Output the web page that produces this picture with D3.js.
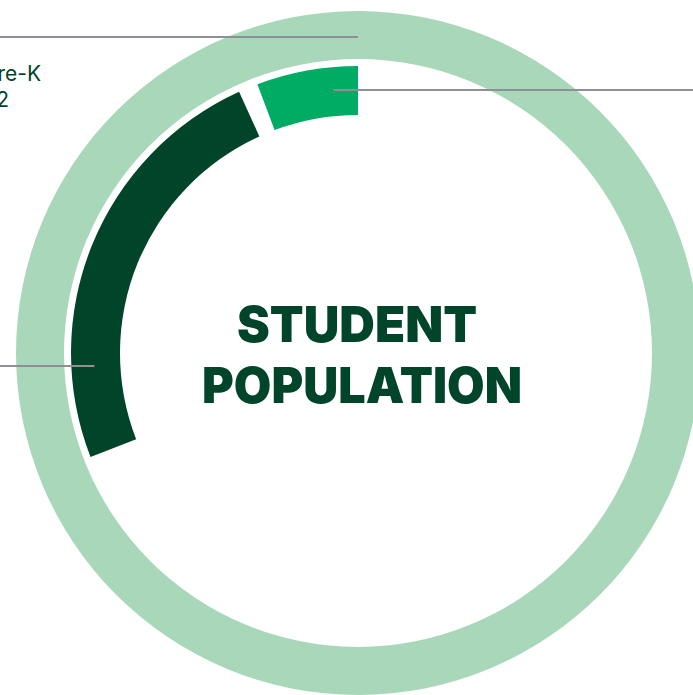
<!DOCTYPE html>
<html>
<head>
<meta charset="utf-8">
<script src="https://cdn.jsdelivr.net/npm/d3@7"></script>
<style>
  html, body { margin: 0; padding: 0; background: #fff; overflow: hidden; }
  svg { display: block; }
</style>
</head>
<body>
<div id="chart"></div>
<script>
// Student population donut, share of the whole circle (percent)

const segments = ["Pre-K", "Grades K-12"];
const shares = [5.7, 24.1];
const gapShare = 1.1;         // blank space between inner segments
const totalLabel = ["Total enrolled Pre-K", "through grade 12"];
const titleLines = ["STUDENT", "POPULATION"];

const colors = {
    ring: "#a8d8b9",
    seg: ["#00ab63", "#00452a"],
    text: "#00452a",
    leader: "#8e9097"
};

const width = 693, height = 695;
const cx = 358, cy = 353;

const svg = d3.select("#chart")
    .append("svg")
    .attr("width", width)
    .attr("height", height);

const g = svg.append("g")
    .attr("transform", `translate(${cx},${cy})`);

// percent of circle -> angle, running counter-clockwise from the top
const angle = d3.scaleLinear()
    .domain([0, 100])
    .range([0, -2 * Math.PI]);

// outer ring = whole population
const ringArc = d3.arc().innerRadius(294).outerRadius(342);
g.append("path")
    .attr("d", ringArc({ startAngle: 0, endAngle: 2 * Math.PI }))
    .attr("fill", colors.ring);

// inner segments laid end to end with a gap
let acc = 0;
const arcs = shares.map((v, i) => {
    const a = { name: segments[i], from: acc, to: acc + v };
    acc += v + gapShare;
    return a;
});

const segArc = d3.arc().innerRadius(238).outerRadius(287);
g.selectAll(".seg")
    .data(arcs)
    .join("path")
    .attr("class", "seg")
    .attr("d", d => segArc({ startAngle: angle(d.to), endAngle: angle(d.from) }))
    .attr("fill", (d, i) => colors.seg[i]);

// leader lines (horizontal, running off the page)
const leaders = [
    { r: 316, at: 0, toX: -cx - 10 },              // outer ring
    { r: 264, at: arcs[0].from + 1.5, toX: width - cx + 10 }, // Pre-K
    { r: 264, at: arcs[1].from + 19, toX: -cx - 10 }  // K-12
];
g.selectAll(".leader")
    .data(leaders)
    .join("line")
    .attr("class", "leader")
    .attr("x1", d => d.r * Math.sin(angle(d.at)))
    .attr("y1", d => Math.round(-d.r * Math.cos(angle(d.at))))
    .attr("x2", d => d.toX)
    .attr("y2", d => Math.round(-d.r * Math.cos(angle(d.at))))
    .attr("stroke", colors.leader)
    .attr("stroke-width", 2);

// label of the outer ring, mostly cut off at the left edge
svg.append("text")
    .attr("font-family", "Inter, sans-serif")
    .attr("font-size", 21)
    .attr("fill", colors.text)
    .attr("text-anchor", "end")
    .selectAll("tspan")
    .data(totalLabel)
    .join("tspan")
    .attr("x", (d, i) => i === 0 ? 41 : 9)
    .attr("y", (d, i) => 81 + i * 26)
    .text(d => d);

// centre title
const titleWidth = [240, 320];
g.selectAll(".title")
    .data(titleLines)
    .join("text")
    .attr("class", "title")
    .attr("x", (d, i) => i === 0 ? -1 : 4)
    .attr("y", (d, i) => -11 + i * 61)
    .attr("text-anchor", "middle")
    .attr("font-family", "Inter, sans-serif")
    .attr("font-weight", 900)
    .attr("font-size", 50)
    .attr("fill", colors.text)
    .attr("textLength", (d, i) => titleWidth[i])
    .attr("lengthAdjust", "spacingAndGlyphs")
    .text(d => d);
</script>
</body>
</html>
